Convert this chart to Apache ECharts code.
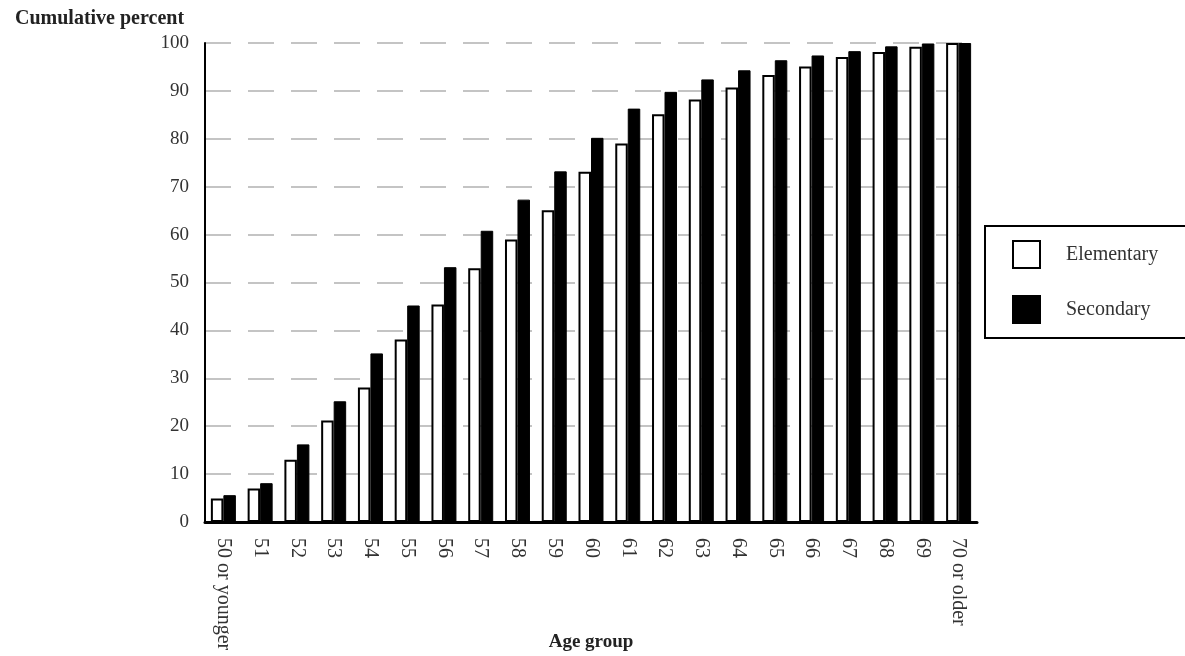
<!DOCTYPE html>
<html>
<head>
<meta charset="utf-8">
<script src="https://cdn.jsdelivr.net/npm/echarts@6/dist/echarts.min.js"></script>
<style>html,body{margin:0;padding:0;background:#fff;}#c{width:1185px;height:656px;}</style>
</head>
<body>
<div id="c"></div>
<script>
const categories = ['50 or younger','51','52','53','54','55','56','57','58','59','60','61','62','63','64','65','66','67','68','69','70 or older'];
const elementary = [4.9, 7.0, 13.0, 21.2, 28.1, 38.1, 45.4, 53.0, 59.0, 65.1, 73.1, 79.0, 85.1, 88.2, 90.7, 93.3, 95.1, 97.1, 98.1, 99.2, 100];
const secondary  = [5.6, 8.1, 16.2, 25.2, 35.2, 45.2, 53.2, 60.8, 67.3, 73.2, 80.2, 86.3, 89.8, 92.4, 94.3, 96.4, 97.4, 98.3, 99.3, 99.9, 100];
const yTicks = { min: 0, max: 100, interval: 10 };

const FONT = '"Liberation Serif", "DejaVu Serif", serif';
const chart = echarts.init(document.getElementById('c'), null, { renderer: 'canvas' });
chart.setOption({
  animation: false,
  backgroundColor: '#fff',
  title: {
    text: 'Cumulative percent',
    left: 10, top: 4,
    textStyle: { fontFamily: FONT, fontSize: 20, fontWeight: 'bold', color: '#222' }
  },
  grid: { left: 205, right: 208, top: 43, bottom: 134, containLabel: false, outerBoundsMode: 'none' },
  legend: {
    orient: 'vertical',
    left: 985, top: 226,
    padding: [14, 40, 14, 27],
    itemWidth: 27, itemHeight: 27,
    itemGap: 26,
    icon: 'rect',
    borderColor: '#000', borderWidth: 2,
    textStyle: { fontFamily: FONT, fontSize: 20, color: '#333', padding: [0, 0, 0, 21] },
    data: ['Elementary', 'Secondary']
  },
  xAxis: {
    type: 'category',
    data: categories,
    name: 'Age group',
    nameLocation: 'middle',
    nameGap: 111,
    nameMoveOverlap: false,
    nameTextStyle: { fontFamily: FONT, fontSize: 19, fontWeight: 'bold', color: '#222' },
    axisLine: { lineStyle: { color: '#000', width: 3 } },
    axisTick: { show: false },
    axisLabel: { interval: 0, rotate: -90, margin: 16, fontFamily: FONT, fontSize: 20, color: '#333' }
  },
  yAxis: {
    type: 'value',
    min: yTicks.min, max: yTicks.max, interval: yTicks.interval,
    axisLine: { show: true, lineStyle: { color: '#000', width: 2 } },
    axisTick: { show: false },
    axisLabel: { margin: 16, fontFamily: FONT, fontSize: 19, color: '#333' },
    splitLine: { show: true, lineStyle: { color: '#c4c4c4', width: 2, type: [26, 17] } }
  },
  series: [
    {
      name: 'Elementary', type: 'bar', data: elementary,
      barGap: '0%', barCategoryGap: '32%',
      itemStyle: { color: '#fff', borderColor: '#000', borderWidth: 2 }
    },
    {
      name: 'Secondary', type: 'bar', data: secondary,
      itemStyle: { color: '#000', borderColor: '#000', borderWidth: 1 }
    }
  ]
});
</script>
</body>
</html>
